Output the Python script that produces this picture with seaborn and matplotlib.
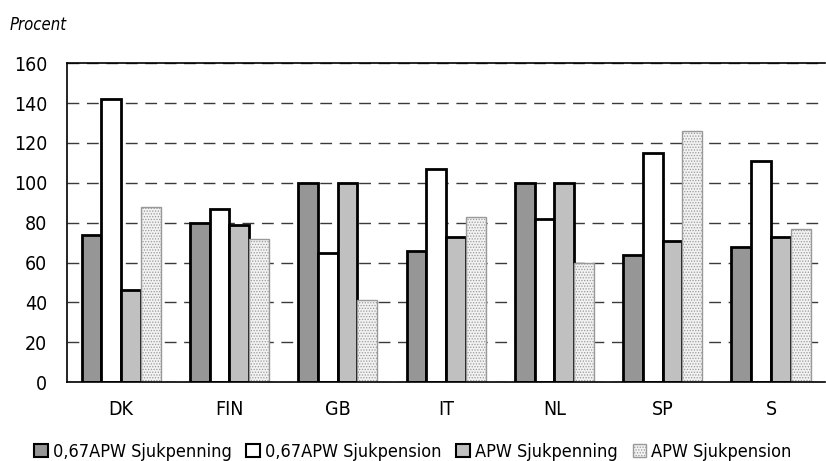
import matplotlib
matplotlib.use("Agg")
import matplotlib.pyplot as plt
import seaborn as sns
import pandas as pd
from matplotlib.patches import Patch
from matplotlib.ticker import FixedLocator

# values (Procent)
countries = ["DK", "FIN", "GB", "IT", "NL", "SP", "S"]
series = ["0,67APW Sjukpenning", "0,67APW Sjukpension",
          "APW Sjukpenning", "APW Sjukpension"]
sjukpenning_067 = [74, 80, 100, 66, 100, 64, 68]
sjukpension_067 = [142, 87, 65, 107, 82, 115, 111]
sjukpenning_apw = [46, 79, 100, 73, 100, 71, 73]
sjukpension_apw = [88, 72, 41, 83, 60, 126, 77]

rows = []
for name, vals in zip(series, [sjukpenning_067, sjukpension_067,
                               sjukpenning_apw, sjukpension_apw]):
    for c, v in zip(countries, vals):
        rows.append({"land": c, "serie": name, "procent": v})
df = pd.DataFrame(rows)

sns.set_style("white")
plt.rcParams["font.family"] = ["DejaVu Sans"]
plt.rcParams["font.stretch"] = "condensed"
plt.rcParams["hatch.linewidth"] = 0.6

colors = ["#969696", "#ffffff", "#c0c0c0", "#f2f2f2"]

fig = plt.figure(figsize=(8.26, 4.61), dpi=100)
ax = fig.add_axes([0.081, 0.171, 0.918, 0.692])

sns.barplot(data=df, x="land", y="procent", hue="serie", order=countries,
            hue_order=series, palette=colors, width=0.73,
            edgecolor="black", linewidth=2, legend=False, ax=ax)

# dotted last series with thin grey border
for p in ax.containers[3]:
    p.set_hatch("......")
    p.set_edgecolor("#999999")
    p.set_linewidth(1)

ax.set_ylim(0, 160)
ax.set_xlim(-0.5, 6.5)
ax.set_yticks(range(0, 161, 20))
ax.yaxis.grid(True, color="#3a3a3a", linewidth=1, linestyle=(0, (8.5, 5.5)))
ax.xaxis.grid(False)
ax.set_axisbelow(True)

for s in ["left", "bottom", "top"]:
    ax.spines[s].set_visible(True)
    ax.spines[s].set_color("black")
    ax.spines[s].set_linewidth(1.2)
ax.spines["right"].set_visible(False)

ax.set_xlabel("")
ax.set_ylabel("")
ax.tick_params(axis="y", length=0, labelsize=14, pad=14, labelcolor="black")
ax.tick_params(axis="x", which="major", length=0, labelsize=14, pad=13,
               labelcolor="black")
ax.xaxis.set_minor_locator(FixedLocator([i - 0.5 for i in range(8)]))
ax.tick_params(axis="x", which="minor", length=12, direction="inout",
               width=1, color="black")

fig.text(0.012, 0.945, "Procent", fontsize=12, style="italic", va="center",
         color="black")

handles = [Patch(facecolor=colors[0], edgecolor="black", linewidth=1.5),
           Patch(facecolor=colors[1], edgecolor="black", linewidth=1.5),
           Patch(facecolor=colors[2], edgecolor="black", linewidth=1.5),
           Patch(facecolor=colors[3], edgecolor="#999999", linewidth=1,
                 hatch="......")]
fig.legend(handles, series, loc="lower center", bbox_to_anchor=(0.5, -0.035),
           ncol=4, frameon=False, fontsize=13, handlelength=0.75,
           handleheight=0.75, handletextpad=0.3, columnspacing=0.8,
           labelcolor="black")

fig.savefig("out.png", dpi=100)
